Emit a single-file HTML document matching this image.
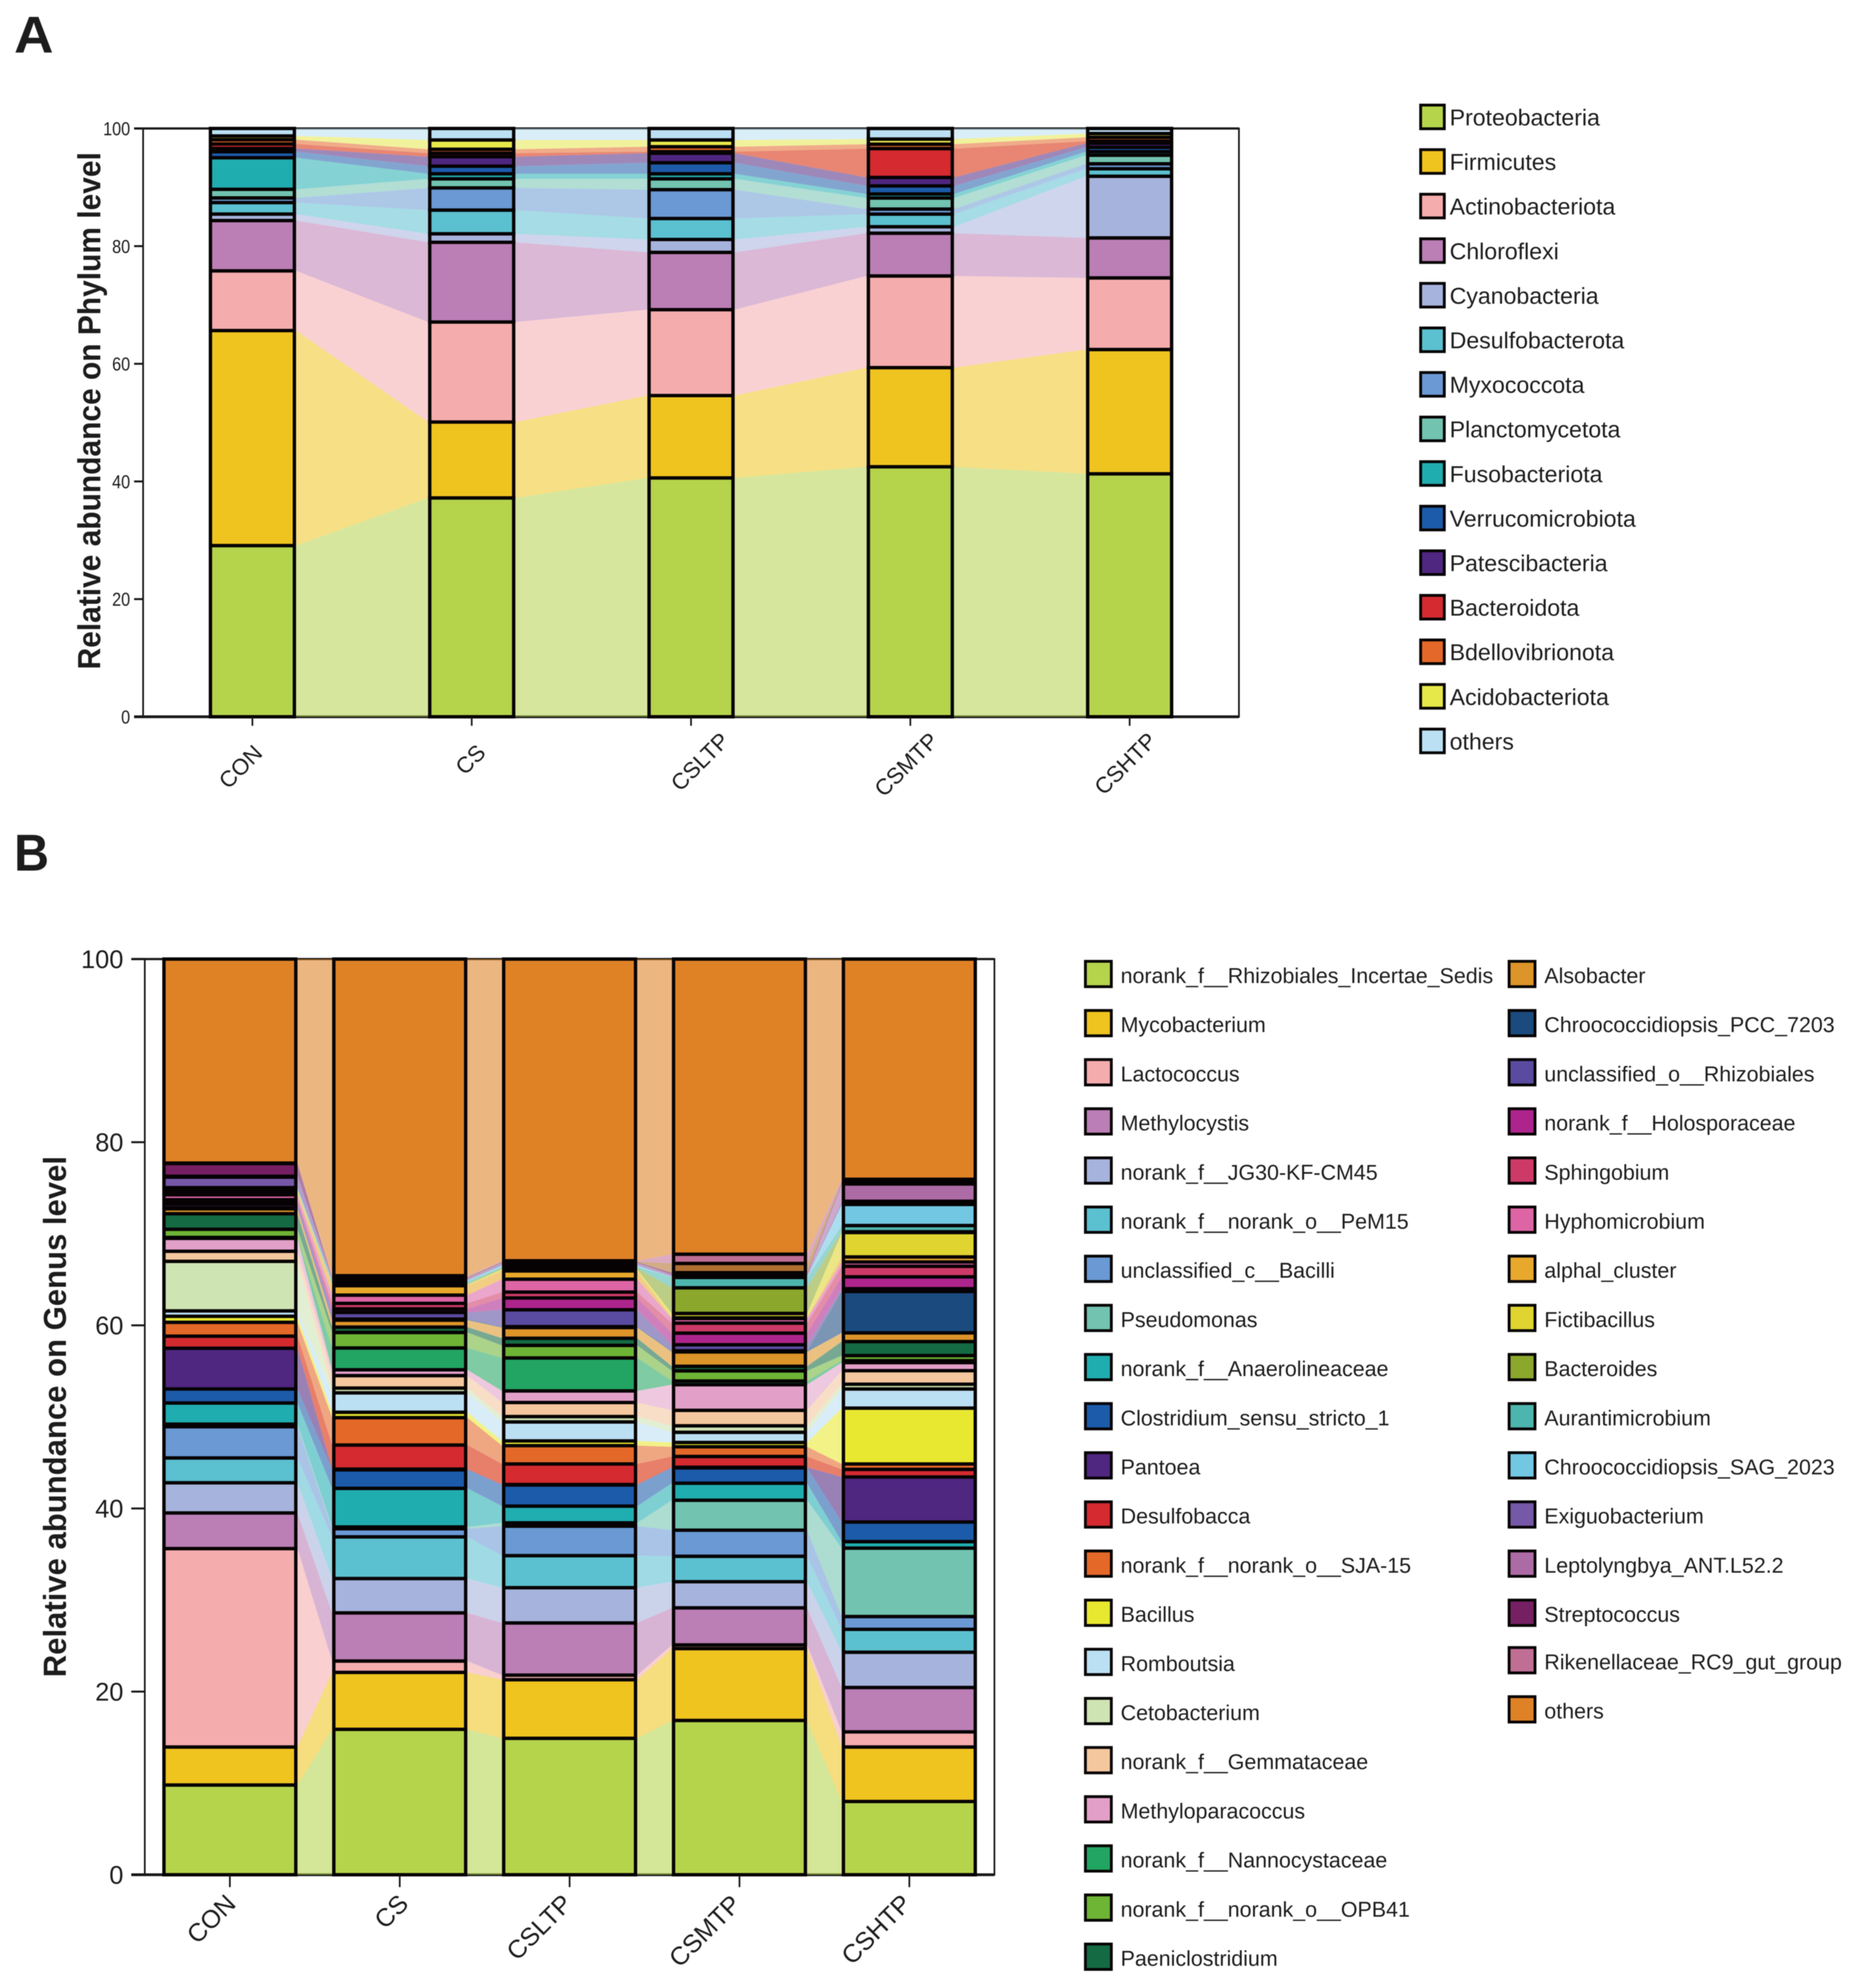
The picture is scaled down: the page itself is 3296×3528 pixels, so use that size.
<!DOCTYPE html>
<html lang="en">
<head>
<meta charset="utf-8">
<title>Relative abundance on Phylum and Genus level</title>
<style>
html,body{margin:0;padding:0;background:#fff;}
svg{display:block;font-family:"Liberation Sans",Arial,sans-serif;filter:blur(0.7px);}
text{fill:#1c1c1c;}
</style>
</head>
<body>
<svg id="figure" width="3296" height="3528" viewBox="0 0 3296 3528">
  <rect x="0" y="0" width="3296" height="3528" fill="#fff"/>
  <text x="25" y="93" font-size="92" font-weight="700" textLength="70" lengthAdjust="spacingAndGlyphs">A</text>
  <text x="25" y="1545" font-size="92" font-weight="700" textLength="62" lengthAdjust="spacingAndGlyphs">B</text>
  <g id="panelA">
    <text transform="translate(178 729) rotate(-90)" text-anchor="middle" font-size="57" font-weight="700" textLength="918" lengthAdjust="spacingAndGlyphs">Relative abundance on Phylum level</text>
  </g>
  <g id="panelB">
    <text transform="translate(117 2514) rotate(-90)" text-anchor="middle" font-size="57" font-weight="700" textLength="925" lengthAdjust="spacingAndGlyphs">Relative abundance on Genus level</text>
  </g>
  <g id="legendA"></g>
  <g id="legendB"></g>
</svg>
<script>
const samples = ['CON', 'CS', 'CSLTP', 'CSMTP', 'CSHTP'];
const tickLabelsA = [0, 20, 40, 60, 80, 100];
const tickLabelsB = [0, 20, 40, 60, 80, 100];

const phyla = ['Proteobacteria', 'Firmicutes', 'Actinobacteriota', 'Chloroflexi', 'Cyanobacteria', 'Desulfobacterota', 'Myxococcota', 'Planctomycetota', 'Fusobacteriota', 'Verrucomicrobiota', 'Patescibacteria', 'Bacteroidota', 'Bdellovibrionota', 'Acidobacteriota', 'others'];
const phylumCON = [29.1, 36.55, 10.15, 8.55, 1.1, 1.95, 0.8, 1.46, 5.37, 1.03, 0.54, 0.76, 0.74, 0.63, 1.27];
const phylumCS = [37.2, 12.9, 17.0, 13.55, 1.45, 4.03, 3.77, 1.54, 0.86, 1.3, 1.6, 0.6, 0.67, 1.58, 1.95];
const phylumCSLTP = [40.6, 14.0, 14.6, 9.74, 2.19, 3.57, 4.9, 1.84, 0.86, 1.88, 1.62, 0.26, 0.84, 1.15, 1.95];
const phylumCSMTP = [42.5, 16.85, 15.58, 7.27, 1.1, 2.14, 0.86, 1.88, 0.69, 1.37, 1.44, 4.9, 0.75, 0.87, 1.8];
const phylumCSHTP = [41.3, 21.13, 12.17, 6.8, 10.48, 1.27, 0.85, 1.45, 0.61, 0.74, 0.7, 0.34, 0.66, 0.64, 0.86];

const genera = ['norank_f__Rhizobiales_Incertae_Sedis', 'Mycobacterium', 'Lactococcus', 'Methylocystis', 'norank_f__JG30-KF-CM45', 'norank_f__norank_o__PeM15', 'unclassified_c__Bacilli', 'Pseudomonas', 'norank_f__Anaerolineaceae', 'Clostridium_sensu_stricto_1', 'Pantoea', 'Desulfobacca', 'norank_f__norank_o__SJA-15', 'Bacillus', 'Romboutsia', 'Cetobacterium', 'norank_f__Gemmataceae', 'Methyloparacoccus', 'norank_f__Nannocystaceae', 'norank_f__norank_o__OPB41', 'Paeniclostridium', 'Alsobacter', 'Chroococcidiopsis_PCC_7203', 'unclassified_o__Rhizobiales', 'norank_f__Holosporaceae', 'Sphingobium', 'Hyphomicrobium', 'alphal_cluster', 'Fictibacillus', 'Bacteroides', 'Aurantimicrobium', 'Chroococcidiopsis_SAG_2023', 'Exiguobacterium', 'Leptolyngbya_ANT.L52.2', 'Streptococcus', '', 'Rikenellaceae_RC9_gut_group', 'others'];
const genusCON = [9.8, 4.15, 21.67, 3.89, 3.3, 2.71, 3.41, 0.28, 2.31, 1.53, 4.45, 1.32, 1.51, 0.66, 0.59, 5.41, 1.1, 1.41, 0.1, 0.89, 1.7, 0.54, 0.12, 0.4, 0.25, 0.22, 0.54, 0.24, 0.23, 0.12, 0.11, 0.08, 1.15, 0.09, 1.39, 0.02, 0.03, 22.28];
const genusCS = [15.88, 6.22, 1.24, 5.26, 3.75, 4.55, 0.89, 0.19, 4.22, 2.02, 0.08, 2.63, 2.99, 0.59, 2.12, 0.52, 1.36, 0.64, 2.38, 1.69, 0.59, 0.76, 0.11, 0.73, 0.39, 0.6, 0.9, 1.03, 0.1, 0.1, 0.27, 0.1, 0.1, 0.1, 0.1, 0.1, 0.12, 34.58];
const genusCSLTP = [14.9, 6.4, 0.5, 5.7, 3.85, 3.5, 3.22, 0.36, 1.83, 2.31, 0.05, 2.24, 2.0, 0.52, 2.07, 0.59, 1.53, 1.27, 3.6, 1.37, 0.78, 1.17, 0.1, 1.84, 1.29, 0.64, 1.41, 0.9, 0.16, 0.15, 0.15, 0.15, 0.15, 0.1, 0.1, 0.08, 0.07, 32.95];
const genusCSMTP = [16.85, 7.85, 0.4, 4.05, 2.85, 2.78, 2.85, 3.27, 1.86, 1.67, 0.07, 1.18, 1.06, 0.47, 1.11, 0.71, 1.69, 2.8, 0.4, 1.11, 0.5, 1.57, 0.12, 0.66, 1.27, 1.09, 0.51, 0.07, 0.48, 2.8, 1.13, 0.07, 0.1, 0.1, 0.25, 1.01, 1.01, 32.23];
const genusCSHTP = [8.0, 5.95, 1.65, 4.85, 3.85, 2.5, 1.4, 7.47, 0.71, 2.14, 4.92, 0.83, 0.59, 6.1, 2.09, 0.52, 1.48, 0.88, 0.21, 0.56, 1.53, 0.95, 4.52, 0.3, 1.3, 1.15, 0.47, 0.55, 2.67, 0.08, 0.68, 2.3, 0.35, 1.89, 0.16, 0.15, 0.2, 24.05];

const phylumColors = ['#B5D44C', '#EFC41F', '#F5ACAD', '#BB7EB5', '#A6B3DC', '#5BC0D0', '#6A99D4', '#72C3B0', '#20ADB0', '#1C5BAA', '#4F2680', '#D42A30', '#E46828', '#E6E84A', '#BBE0F3'];
const genusColors = ['#B5D44C', '#EFC41F', '#F5ACAD', '#BB7EB5', '#A6B3DC', '#5BC0D0', '#6A99D4', '#72C3B0', '#20ADB0', '#1C5BAA', '#4F2680', '#D42A30', '#E46828', '#E9E830', '#BBE0F3', '#CFE4B3', '#F5C79E', '#E2A0C8', '#22A562', '#6EB435', '#146B43', '#DD9428', '#1B4A7E', '#5A4BA0', '#AD248C', '#CE3A68', '#DD65A5', '#E8A82B', '#DFD430', '#8BA82C', '#4CB6AE', '#72C7E3', '#7558A8', '#AD6BA5', '#762063', '#B07030', '#C16E95', '#DF8226'];

/* layout nudges for rotated sample labels */
const labelNudgeA = [20, 27, 70, 52, 50];
const labelDropA = [13, 12, -9, -9, -9];
const labelNudgeB = [13, 18, 7, 5, 6];
const labelDropB = [11, 11, 11, 12, 11];

const figure = document.getElementById('figure');
const NS = figure.namespaceURI;

function add(tag, parent, attrs) {
  const el = document.createElementNS(NS, tag);
  for (const k in attrs) el.setAttribute(k, attrs[k]);
  parent.appendChild(el);
  return el;
}

/* axis functions */
const xA = i => 448 + i * 389.25;
const yA = v => 1272 - v * 10.44;
const xB = i => 408 + i * 301.5;
const yB = v => 3327 - v * 16.25;

function drawPanel(cfg) {
  const g = cfg.group;
  const top = cfg.y(100);
  const bottom = cfg.y(0);
  const half = cfg.barWidth / 2;

  /* frame below the translucent ribbons */
  const frame = add('path', g, {d: 'M' + cfg.left + ' ' + top + 'H' + cfg.right + 'V' + bottom + 'H' + cfg.left + 'Z', fill: 'none', stroke: '#161616', 'stroke-width': cfg.frameWidth});
  
  

  const baseline = add('line', g, {x1: cfg.left - cfg.tickLen, x2: cfg.right, y1: bottom, y2: bottom, stroke: '#1a1a1a', 'stroke-width': 5});
  
  

  const topLine = add('line', g, {x1: cfg.left - cfg.tickLen, x2: cfg.right, y1: top, y2: top, stroke: '#1a1a1a', 'stroke-width': 4});
  
  

  /* cumulative stack positions from the value arrays */
  const stacks = cfg.values.map(function (vals) {
    let run = 0;
    return vals.map(function (v) {
      const lo = run;
      run += v;
      return [lo, run];
    });
  });

  /* ribbons between neighbouring bars */
  for (let i = 0; i < stacks.length - 1; i++) {
    const xa = cfg.x(i) + half;
    const xb = cfg.x(i + 1) - half;
    stacks[i].forEach(function (seg, s) {
      const next = stacks[i + 1][s];
      const pts = [xa, cfg.y(seg[1]), xb, cfg.y(next[1]), xb, cfg.y(next[0]), xa, cfg.y(seg[0])].join(' ');
      const ribbon = add('polygon', g, {points: pts, fill: s === cfg.redIndex ? '#D52300' : cfg.colors[s], 'fill-opacity': cfg.ribbonOpacity});
      
      
    });
  }

  /* stacked bars */
  stacks.forEach(function (stack, i) {
    stack.forEach(function (seg, s) {
      const rect = add('rect', g, {x: cfg.x(i) - half + 3, width: cfg.barWidth - 6, y: cfg.y(seg[1]), height: Math.max(cfg.y(seg[0]) - cfg.y(seg[1]), 0.1), fill: cfg.colors[s], stroke: '#060203', 'stroke-width': 6});
      
      
    });
  });

  /* y ticks */
  cfg.ticks.forEach(function (t) {
    const tick = add('line', g, {x1: cfg.left - cfg.tickLen, x2: cfg.left, y1: cfg.y(t), y2: cfg.y(t), stroke: '#161616', 'stroke-width': 3.5});
    
    
    const label = add('text', g, {x: cfg.yLabelX, y: cfg.y(t) + cfg.yLabelDy, 'text-anchor': 'end', 'font-size': cfg.yLabelSize});
    if (cfg.digitWidth) {
      label.setAttribute('textLength', String(t).length * cfg.digitWidth);
      label.setAttribute('lengthAdjust', 'spacingAndGlyphs');
    }
    label.textContent = t;
    
    
  });

  /* x ticks and labels */
  samples.forEach(function (name, i) {
    const tick = add('line', g, {x1: cfg.x(i), x2: cfg.x(i), y1: bottom, y2: bottom + cfg.xTickLen, stroke: '#161616', 'stroke-width': 3});
    
    
    const lx = cfg.x(i) + cfg.labelNudge[i];
    const ly = cfg.labelY + cfg.labelDrop[i];
    const label = add('text', g, {transform: 'translate(' + lx + ' ' + ly + ') rotate(-45)', 'text-anchor': 'end', 'font-size': cfg.xLabelSize});
    label.textContent = name;
    
    
  });
}

drawPanel({
  group: document.getElementById('panelA'),
  values: [phylumCON, phylumCS, phylumCSLTP, phylumCSMTP, phylumCSHTP],
  colors: phylumColors, x: xA, y: yA, barWidth: 155, ribbonOpacity: 0.55, redIndex: 11,
  left: 254, right: 2199, frameWidth: 3, tickLen: 16, xTickLen: 16,
  ticks: tickLabelsA, yLabelX: 231, yLabelDy: 12, yLabelSize: 33, digitWidth: 16,
  labelNudge: labelNudgeA, labelDrop: labelDropA, labelY: 1326, xLabelSize: 40
});

drawPanel({
  group: document.getElementById('panelB'),
  values: [genusCON, genusCS, genusCSLTP, genusCSMTP, genusCSHTP],
  colors: genusColors, x: xB, y: yB, barWidth: 240, ribbonOpacity: 0.58, redIndex: 11,
  left: 257, right: 1765, frameWidth: 3, tickLen: 24, xTickLen: 22,
  ticks: tickLabelsB, yLabelX: 219, yLabelDy: 16, yLabelSize: 45, digitWidth: 0,
  labelNudge: labelNudgeB, labelDrop: labelDropB, labelY: 3370, xLabelSize: 45
});

/* phylum legend */
const legendA = document.getElementById('legendA');
phyla.forEach(function (name, i) {
  const cy = 207.5 + i * 79.1;
  const swatch = add('rect', legendA, {x: 2521.5, y: cy - 21, width: 42, height: 42, fill: phylumColors[i], stroke: '#060203', 'stroke-width': 5});
  
  
  const label = add('text', legendA, {x: 2573, y: cy + 15, 'font-size': 41});
  label.textContent = name;
  
  
});

/* genus legend: 21 rows in the first column, the rest in the second */
const legendB = document.getElementById('legendB');
let legendIndex = 0;
genera.forEach(function (name, i) {
  if (!name) return;
  const col = legendIndex < 21 ? 0 : 1;
  const row = col ? legendIndex - 21 : legendIndex;
  legendIndex++;
  const cy = 1728.5 + row * 87.2 - (col && row >= 14 ? 3 : 0);
  const sx = col ? 2678.5 : 1926.5;
  const swatch = add('rect', legendB, {x: sx, y: cy - 22.5, width: 46, height: 45, fill: genusColors[i], stroke: '#060203', 'stroke-width': 5});
  
  
  const label = add('text', legendB, {x: col ? 2741 : 1989, y: cy + 16, 'font-size': 38});
  label.textContent = name;
  
  
});
</script>
</body>
</html>
